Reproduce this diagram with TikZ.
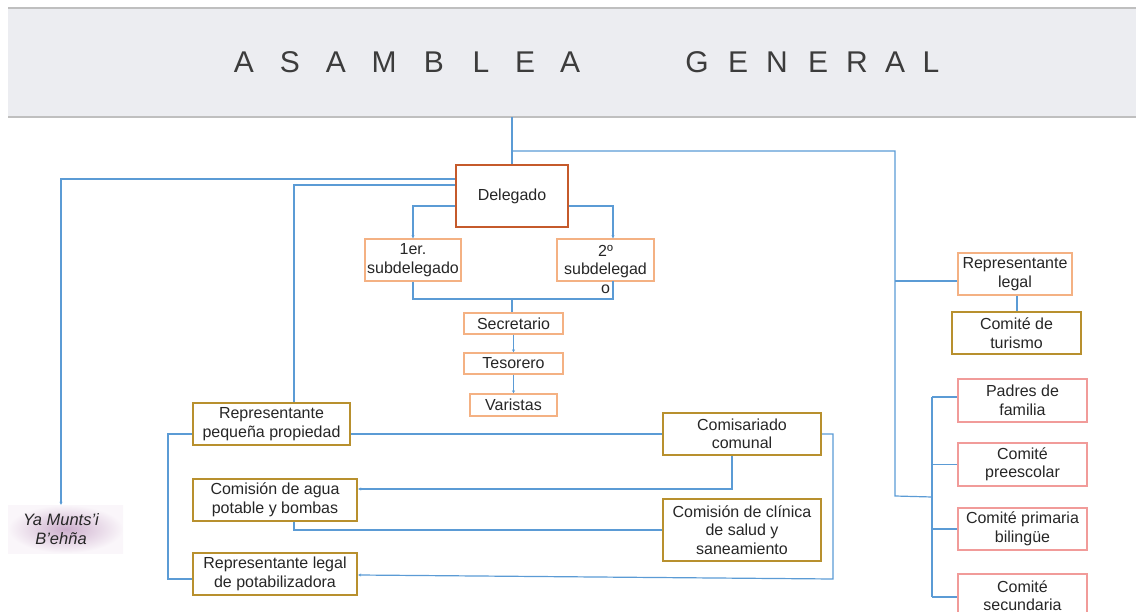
\documentclass[tikz,border=0pt]{standalone}
\usepackage{fontspec}
\setmainfont{Liberation Sans}
\usetikzlibrary{arrows.meta}

\definecolor{link}{HTML}{5B9BD5}
\definecolor{deleg}{HTML}{C55A2B}
\definecolor{peach}{HTML}{F4B183}
\definecolor{gold}{HTML}{B8902E}
\definecolor{rose}{HTML}{F19B99}
\definecolor{band}{HTML}{ECEDF1}
\definecolor{rule}{HTML}{BFBFBF}
\definecolor{ink}{HTML}{262626}
\definecolor{hazein}{HTML}{CDAFCD}
\definecolor{hazeout}{HTML}{FAF6FA}

\begin{document}
\begin{tikzpicture}[x=1pt,y=-1pt,
  every node/.style={inner sep=0pt, align=center, text=ink,
    font=\fontsize{16}{18.5}\selectfont},
  box/.style={draw, rectangle},
  headbox/.style={box, draw=deleg, line width=2.4pt},
  peachbox/.style={box, draw=peach, line width=1.3pt},
  goldbox/.style={box, draw=gold, line width=2.3pt},
  rosebox/.style={box, draw=rose, line width=1.3pt},
  wire/.style={draw=link, line width=1.2pt},
  tip/.style={-{Stealth[length=3pt,width=3pt]}},
  titleletter/.style={anchor=base, text=ink!90, font=\fontsize{30}{36}\selectfont}
]
\useasboundingbox (0,0) rectangle (1136,612);

% header band
\fill[band] (8,8) rectangle (1136,117);
\draw[rule, line width=1.5pt] (8,8) -- (1136,8);
\draw[rule, line width=1.5pt] (8,117) -- (1136,117);
\foreach \c/\x [count=\i] in {A/244,S/290,A/336,M/384,B/434,L/481,E/525,A/570}
  \node[titleletter] (ta\i) at (\x,73) {\c};
\foreach \c/\x [count=\i] in {G/697,E/738,N/777,E/818,R/857,A/895,L/931}
  \node[titleletter] (tg\i) at (\x,73) {\c};

% soft glow behind the community name
\shade[inner color=hazein, outer color=hazeout] (8,505) rectangle (123,553);

% central hierarchy
\node[headbox, minimum width=112, minimum height=62] (del) at (512,196) {Delegado};
\node[peachbox, minimum width=96, minimum height=42] (sub1) at (413,260) {1er.\\subdelegado};
\node[peachbox, minimum width=97, minimum height=42] (sub2) at (605.5,260) {};
\node (sub2t) at (605.5,269) {2º\\subdelegad\\o};
\node[peachbox, minimum width=99, minimum height=21] (sec) at (513.5,323.5) {Secretario};
\node[peachbox, minimum width=99, minimum height=21] (tes) at (513.5,363.5) {Tesorero};
\node[peachbox, minimum width=87, minimum height=22] (var) at (513.5,405) {Varistas};

% right column
\node[peachbox, minimum width=114, minimum height=42] (replegal) at (1015,274) {Representante\\legal};
\node[goldbox, minimum width=129, minimum height=42] (turismo) at (1016.5,333) {Comité de\\turismo};
\node[rosebox, minimum width=129, minimum height=43] (padres) at (1022.5,400.5) {Padres de\\familia};
\node[rosebox, minimum width=129, minimum height=43] (preesc) at (1022.5,464.5) {Comité\\preescolar};
\node[rosebox, minimum width=129, minimum height=42] (primaria) at (1022.5,529) {Comité primaria\\bilingüe};
\node[rosebox, minimum width=129, minimum height=43] (secund) at (1022.5,595.5) {Comité\\secundaria};

% lower group
\node[goldbox, minimum width=157, minimum height=42] (reppeq) at (271.5,424) {Representante\\pequeña propiedad};
\node[goldbox, minimum width=164, minimum height=42] (agua) at (275,500) {Comisión de agua\\potable y bombas};
\node[goldbox, minimum width=164, minimum height=42] (potab) at (275,574) {Representante legal\\de potabilizadora};
\node[goldbox, minimum width=158, minimum height=42] (comis) at (742,434) {Comisariado\\comunal};
\node[goldbox, minimum width=158, minimum height=62] (clinica) at (742,530) {Comisión de clínica\\de salud y\\saneamiento};

% community name
\node[minimum width=100, minimum height=48, font=\fontsize{16.5}{18.5}\selectfont\itshape] (ya) at (61,529) {Ya Munts’i\\B’ehña};

% junction points
\coordinate (hb) at (512,117);
\coordinate (jr) at (512,151);
\coordinate (tr) at (895,151);
\coordinate (tb) at (895,496);
\coordinate (st) at (932,397);
\coordinate (sm) at (932,497);
\coordinate (sb) at (932,597);
\coordinate (jb) at (512,299);
\coordinate (s2b) at (613,281);
\coordinate (lb) at (168,500);
\coordinate (rb) at (833,579);

% connectors: assembly, delegate and right column
\draw[wire] (hb) -- (del.north);
\draw[wire] (jr) -- (tr) -- (tb) -- (sm);
\draw[wire] (tr |- 0,281) -- ([yshift=-7pt]replegal.west);
\draw[wire] ([xshift=2pt]replegal.south) -- ([xshift=2pt]replegal.south |- turismo.north);
\draw[wire] (st) -- (sb);
\draw[wire] (st) -- (st -| padres.west);
\draw[wire] (preesc.west -| st) -- (preesc.west);
\draw[wire] (primaria.west -| st) -- (primaria.west);
\draw[wire] (sb) -- (sb -| secund.west);

\draw[wire, tip] ([yshift=17pt]del.west) -| (ya.north);
\draw[wire] ([yshift=11pt]del.west) -| ([xshift=22.5pt]reppeq.north);
\draw[wire, tip] ([yshift=-10pt]del.west) -| (sub1.north);
\draw[wire, tip] ([yshift=-10pt]del.east) -| ([xshift=7.5pt]sub2.north);
\draw[wire] (sub1.south) |- (jb -| s2b) -- (s2b);
\draw[wire] (jb) -- (jb |- sec.north);
\draw[wire, tip] (sec.south) -- (tes.north);
\draw[wire, tip] (tes.south) -- (var.north);

% connectors: lower group
\draw[wire] (reppeq.east |- comis.west) -- (comis.west);
\draw[wire] (reppeq.west |- comis.west) -| (lb) |- ([yshift=-5pt]potab.west);
\draw[wire, tip] ([xshift=-10pt]comis.south) |- ([yshift=11pt]agua.east);
\draw[wire] ([xshift=19pt]agua.south) |- (clinica.west);
\draw[wire, tip] (comis.east) -| (rb) -- ([yshift=-1pt]potab.east);
\end{tikzpicture}
\end{document}
